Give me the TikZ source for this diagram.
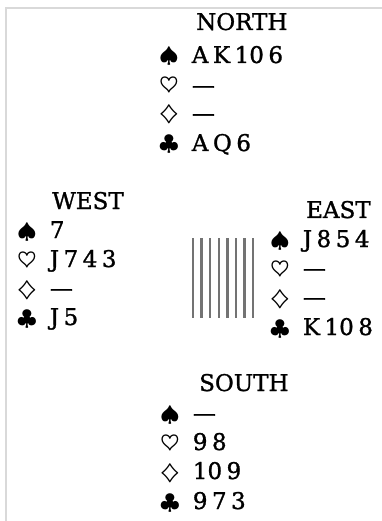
\RequirePackage{fix-cm}
\documentclass[tikz,border=0pt]{standalone}
\usepackage{fontspec}
\setmainfont[FakeBold=1.2]{DejaVu Serif}
\newcommand{\cgap}{\hspace{4.5pt}}
\newcommand{\sgap}{\hspace{13pt}}
\newcommand{\suit}[1]{{\fontsize{22}{26}\selectfont\boldmath$#1$}}
\tikzstyle{seat}  = [anchor=base west, inner sep=0pt, font=\fontsize{23}{28}\selectfont]
\tikzstyle{row}   = [anchor=base west, inner sep=0pt, font=\fontsize{23}{28}\selectfont]
\tikzstyle{frame} = [draw=black!15, line width=1.2pt]
\tikzstyle{bar}   = [draw=black!55, line width=2.4pt]

\begin{document}
\begin{tikzpicture}[x=1pt, y=-1pt]
  \useasboundingbox (0,0) rectangle (382,521);

  % faint frame at top and left
  \coordinate (tl) at (6,8);
  \coordinate (tr) at (382,8);
  \coordinate (bl) at (6,521);
  \draw[frame] (tr) -- (tl) -- (bl);

  % North
  \node (north) [seat] at (196,30) {NORTH};
  \node (nsp) [row] at (159,63)  {\suit{\spadesuit}\sgap A\cgap K\cgap 10\cgap 6};
  \node (nhe) [row] at (159,93)  {\suit{\heartsuit}\sgap —};
  \node (ndi) [row] at (159,121) {\suit{\diamondsuit}\sgap —};
  \node (ncl) [row] at (159,151) {\suit{\clubsuit}\sgap A\cgap Q\cgap 6};

  % West
  \node (west) [seat] at (52,209) {WEST};
  \node (wsp) [row] at (17,238) {\suit{\spadesuit}\sgap 7};
  \node (whe) [row] at (17,267) {\suit{\heartsuit}\sgap J\cgap 7\cgap 4\cgap 3};
  \node (wdi) [row] at (17,296) {\suit{\diamondsuit}\sgap —};
  \node (wcl) [row] at (17,325) {\suit{\clubsuit}\sgap J\cgap 5};

  % East
  \node (east) [seat] at (306,218) {EAST};
  \node (esp) [row] at (270,247) {\suit{\spadesuit}\sgap J\cgap 8\cgap 5\cgap 4};
  \node (ehe) [row] at (270,276) {\suit{\heartsuit}\sgap —};
  \node (edi) [row] at (270,305) {\suit{\diamondsuit}\sgap —};
  \node (ecl) [row] at (270,335) {\suit{\clubsuit}\sgap K\cgap 10\cgap 8};

  % South
  \node (south) [seat] at (199,391) {SOUTH};
  \node (ssp) [row] at (160,421) {\suit{\spadesuit}\sgap —};
  \node (she) [row] at (160,450) {\suit{\heartsuit}\sgap 9\cgap 8};
  \node (sdi) [row] at (160,479) {\suit{\diamondsuit}\sgap 10\cgap 9};
  \node (scl) [row] at (160,509) {\suit{\clubsuit}\sgap 9\cgap 7\cgap 3};

  % the cards in the middle
  \foreach \i in {0,...,7}
    \draw[bar] (193+8.6*\i,238) -- (193+8.6*\i,318);

\end{tikzpicture}
\end{document}
